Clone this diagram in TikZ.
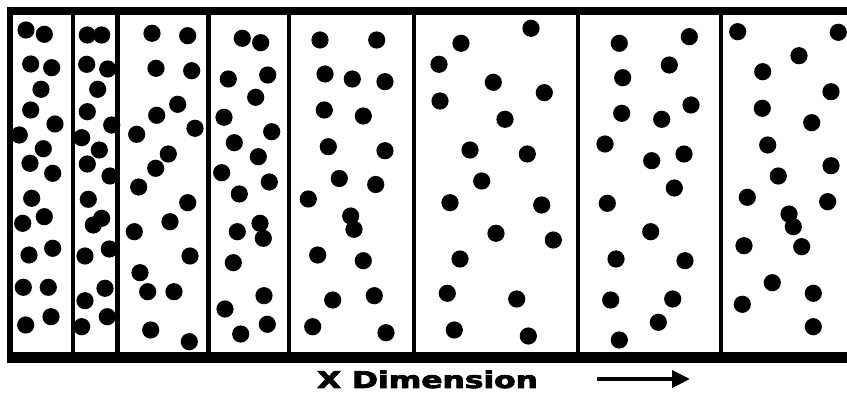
\documentclass[tikz,border=0pt]{standalone}
\usepackage{fontspec}
\newfontfamily\labelfont{DejaVu Sans Bold}[FakeBold=3]
\usetikzlibrary{arrows.meta}
\begin{document}
\begin{tikzpicture}[x=1pt,y=-1pt,
  dot/.style={fill=black},
  wall/.style={line width=4.5pt},
  bar/.style={line width=9pt}]
\useasboundingbox[fill=white] (0,0) rectangle (847,398);
% dots
\foreach \p in {(26,30),(44.3,34.3),(30.7,64),(51.7,67.7),(41,89.3),(30.7,110),(55,124),(19.3,135),(43.3,148.7),(30,163.3),(52.7,173.3),(31.7,198.3),(44.3,216.7),(22.7,223.3),(52.7,248.3),(29,255),(23.3,287.3),(48.3,287.3),(51,316.7),(25.7,325),
(87.3,35),(101.7,35),(86.7,64.3),(107.7,69),(97.7,89.3),(87.3,111.7),(111.7,125),(81.7,137.7),(99.3,150),(87.3,164),(110,176),(88.3,199.3),(101.7,218.3),(93.3,225),(109.3,249),(85,256),(105,288.3),(85,300.7),(107.3,316.7),(81.7,326.7),
(152,33.3),(187.7,35.7),(156,68.3),(191.7,70.7),(177.7,104.3),(156.7,115.3),(195,128.3),(136.7,134.3),(168.3,154),(155.7,168.3),(138.7,187),(187.7,202.7),(170,221.7),(134.3,231.7),(190,256),(140,272.7),(147.7,291.7),(174,291.7),(150.7,330),(189.3,341.7),
(242.3,38.3),(260.7,42.7),(228.3,79),(267.7,75),(255.7,97.3),(224,117.3),(271.7,131.7),(234.3,142.7),(258.3,156.7),(221.7,172.7),(269.3,182),(239.3,194),(260,223.3),(263.3,238.3),(237.3,231.7),(233.3,262.7),(264,295.7),(225,309),(267.3,324.3),(240.7,334),
(320,40),(376.7,40),(325,74),(352.3,79),(385,81.7),(324.3,110),(363.3,116),(328.3,146.7),(385,150.7),(339.3,178.5),(375.7,184.5),(308.3,199),(350.7,216),(354,229.3),(317.7,255),(363.3,260.7),(332.7,300),(374.3,295.7),(312.7,326.7),(386,332.7),
(531,28.3),(461,43.3),(439,64.3),(493.3,82.3),(544.3,92.7),(440,101),(505,119.3),(470,150),(527.3,154),(481.7,181),(450,202.7),(541.7,205),(496,233.3),(553.3,240),(460,259),(447.3,293.3),(516.7,299),(454.3,330),(528.3,336),
(619.3,43.3),(689.3,36.7),(669.3,65),(622.7,77.7),(691,105),(661.7,119.3),(621.7,113.3),(605,144),(684,154),(651.7,160.7),(674.3,188),(607.3,203.3),(650.7,231.7),(616,259),(685,260.7),(672.7,299),(610.7,300),(658.3,322.3),(619.3,340),
(737.7,31.7),(838.3,32.3),(799,55.7),(762.7,71.7),(831,91.7),(762.3,108.3),(811.7,122.7),(767.7,145),(831,165.7),(778.3,176),(747.3,197.3),(827.7,201.7),(789,214),(793.3,226.7),(744,245.7),(801.7,246.7),(772.3,282.7),(813.3,293.3),(742.3,304.3),(813.3,326.7)}
  \fill[dot] \p circle (8.6);
% walls
\draw[line width=6pt] (10.3,8) -- (10.3,357);
\foreach \x in {73,117.5,208.7,289,414,578,721}
  \draw[wall] (\x,8) -- (\x,357);
\draw[line width=8pt] (7.3,11.2) -- (847,11.2);
\draw[line width=11pt] (7.3,357.5) -- (847,357.5);
% label and arrow
\node[anchor=base, inner sep=0pt, font=\labelfont\fontsize{23}{23}\selectfont] (lbl) at (427.5,388) {\scalebox{1.36}[1]{X Dimension}};
\coordinate (a0) at (597,379);
\coordinate (a1) at (690,379);
\draw[line width=4pt, -{Triangle[length=18pt,width=17pt]}] (a0) -- (a1);
\end{tikzpicture}
\end{document}
